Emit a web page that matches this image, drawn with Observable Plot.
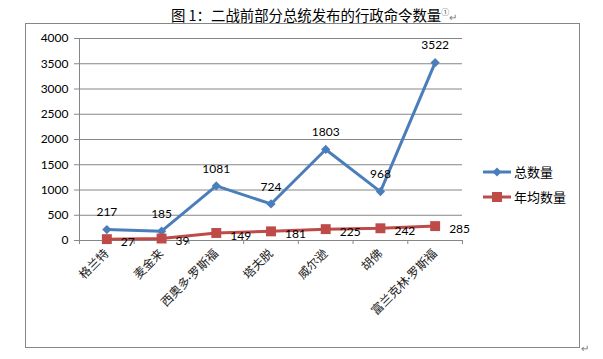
<!DOCTYPE html>
<html><head><meta charset="utf-8">
<script src="https://cdn.jsdelivr.net/npm/d3@7"></script>
<script src="https://cdn.jsdelivr.net/npm/@observablehq/plot@0.6"></script>
<style>
body{margin:0;background:#fff;}
#wrap{position:relative;width:603px;height:359px;overflow:hidden;font-family:"Noto Sans CJK SC",sans-serif;}
#title{position:absolute;left:171px;top:2px;white-space:nowrap;font-size:14.4px;line-height:20px;color:#000;}
#title sup{font-size:8px;color:#555;vertical-align:6px;}
#title .pm{font-size:10px;color:#777;}
#frame{position:absolute;left:25px;top:23px;width:553px;height:323px;border:1px solid #868686;}
#chart{position:absolute;left:0;top:24px;}
.leg{position:absolute;left:482px;font-size:13px;line-height:16px;display:flex;align-items:center;color:#000;}
.leg svg{margin-right:2px;}
#pm2{position:absolute;left:581px;top:340px;font-size:10px;color:#777;}
</style></head>
<body>
<div id="wrap">
  <div id="title">图 1：二战前部分总统发布的行政命令数量<sup>①</sup><span class="pm">↵</span></div>
  <div id="frame"></div>
  <div id="chart"></div>
  <div class="leg" style="top:164px"><svg width="30" height="12"><line x1="1" y1="6" x2="29" y2="6" stroke="#4A7EBB" stroke-width="3"/><path d="M15,1.5L19.5,6L15,10.5L10.5,6Z" fill="#4A7EBB"/></svg>总数量</div>
  <div class="leg" style="top:189px"><svg width="30" height="12"><line x1="1" y1="6" x2="29" y2="6" stroke="#BE4B48" stroke-width="3"/><rect x="10" y="1" width="10" height="10" fill="#BE4B48"/></svg>年均数量</div>
  <div id="pm2">↵</div>
</div>
<script>
const presidents = ["格兰特", "麦金来", "西奥多·罗斯福", "塔夫脱", "威尔逊", "胡佛", "富兰克林·罗斯福"];
const totalCount = [217, 185, 1081, 724, 1803, 968, 3522];
const annualCount = [27, 39, 149, 181, 225, 242, 285];
const yTicks = [0, 500, 1000, 1500, 2000, 2500, 3000, 3500, 4000];

const data = presidents.map((name, i) => ({i, name, total: totalCount[i], annual: annualCount[i]}));
const idx = data.map(d => d.i);
const bounds = d3.range(presidents.length + 1).map(k => k - 0.5);
const xDomain = [bounds[0], bounds[bounds.length - 1]];
const numFont = "Lato, 'Open Sans', sans-serif";

const chart = Plot.plot({
  width: 603,
  height: 335,
  marginTop: 14,
  marginBottom: 119,
  marginLeft: 79,
  marginRight: 141,
  x: {type: "linear", domain: xDomain, axis: null},
  y: {domain: [0, 4000], axis: null},
  style: {background: "transparent", overflow: "visible"},
  marks: [
    Plot.gridY(yTicks, {stroke: "#868686", strokeOpacity: 1, strokeWidth: 1}),
    Plot.ruleX([xDomain[0]], {stroke: "#868686"}),
    Plot.ruleY([0], {stroke: "#868686"}),
    Plot.axisY(yTicks, {tickSize: 5, tickPadding: 6, tickFormat: d => String(d), stroke: "#868686", fill: "#000", fontSize: 12, fontFamily: numFont, label: null}),
    Plot.axisX(bounds, {tickSize: 4, tickFormat: () => "", stroke: "#868686", label: null}),
    Plot.axisX(idx, {tickSize: 0, tickPadding: 11, tickRotate: -45, tickFormat: i => presidents[i], fontSize: 12, fontFamily: "Lato, 'Noto Sans CJK SC'", fill: "#222", label: null}),
    Plot.line(data, {x: "i", y: "total", stroke: "#4A7EBB", strokeWidth: 3}),
    Plot.dot(data, {x: "i", y: "total", symbol: "diamond2", r: 4.2, fill: "#4A7EBB", stroke: "none"}),
    Plot.line(data, {x: "i", y: "annual", stroke: "#BE4B48", strokeWidth: 3}),
    Plot.dot(data, {x: "i", y: "annual", symbol: "square", r: 5.6, fill: "#BE4B48", stroke: "none"}),
    Plot.text(data, {x: "i", y: "total", text: d => String(d.total), dy: -17, fontSize: 12, fontFamily: numFont, fill: "#000"}),
    Plot.text(data, {x: "i", y: "annual", text: d => String(d.annual), dx: 14, dy: 3, textAnchor: "start", fontSize: 12, fontFamily: numFont, fill: "#000"})
  ]
});
document.getElementById("chart").appendChild(chart);
</script>
</body></html>
